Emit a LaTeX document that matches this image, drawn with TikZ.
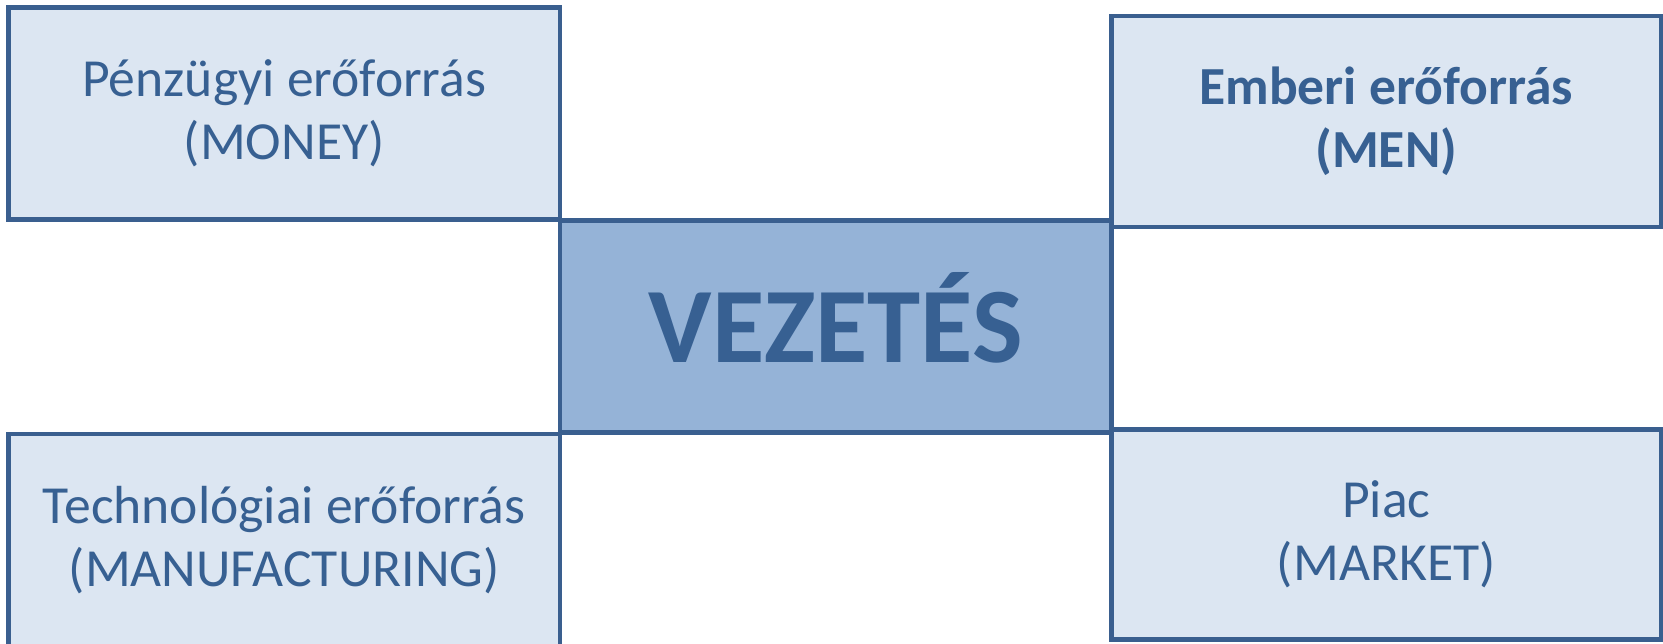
\documentclass[tikz,border=0pt]{standalone}
\usepackage{fontspec}
\setmainfont{Carlito}
\definecolor{keret}{HTML}{3A5F8F}
\definecolor{betu}{HTML}{376092}
\definecolor{vilagos}{HTML}{DCE6F2}
\definecolor{kozep}{HTML}{95B3D7}
\begin{document}
\begin{tikzpicture}[box/.style={draw=keret,line width=2.8pt,fill=vilagos,text=betu,
        minimum width=11.03cm,minimum height=4.24cm,align=center,inner sep=0pt,
        font=\fontsize{30.5}{36}\selectfont},
        fonok/.style={box,fill=kozep,font=\fontsize{61}{70}\selectfont\bfseries,
        text height=1.44cm,text depth=0cm}]
            \useasboundingbox (0,0) rectangle (33.26,12.86);
            \node (money) [box] at (5.685,10.59) {P\'enz\"ugyi er\H{o}forr\'as\\(MONEY)};
            \node (men) [box,minimum width=10.99cm,minimum height=4.22cm,font=\fontsize{30.5}{36}\selectfont\bfseries] at (27.725,10.43) {Emberi er\H{o}forr\'as\\(MEN)};
            \node (vez) [fonok] at (16.715,6.33) {VEZET\'ES};
            \node (manuf) [box] at (5.685,2.06) {Technol\'ogiai er\H{o}forr\'as\\(MANUFACTURING)};
            \node (market) [box,minimum width=10.99cm,minimum height=4.2cm] at (27.725,2.17) {Piac\\(MARKET)};
        \end{tikzpicture}
\end{document}
